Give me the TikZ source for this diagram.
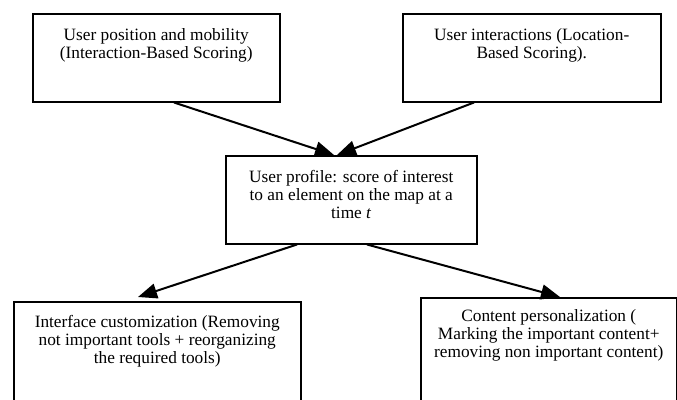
\documentclass[tikz,border=0pt]{standalone}
\usepackage{fontspec}
\setmainfont{Liberation Serif}
\usetikzlibrary{arrows.meta}
\begin{document}
\begin{tikzpicture}[x=1pt,y=-1pt,
  box/.style={draw,line width=1.5pt,inner sep=0pt,anchor=north west},
  txt/.style={anchor=north,inner sep=0pt,align=center,font=\fontsize{17.3}{18.3}\selectfont},
  arr/.style={line width=2pt,-{Triangle[length=19pt,width=15pt]}}]
\useasboundingbox (0,0) rectangle (677,399);
\clip (0,0) rectangle (677,399);
\fill[white] (0,0) rectangle (677,399);
\node[box,minimum width=247pt,minimum height=88pt] (b1) at (32,13) {};
\node[box,minimum width=258pt,minimum height=88pt] (b2) at (402,13) {};
\node[box,minimum width=251pt,minimum height=88pt] (c) at (225,155) {};
\node[box,minimum width=287pt,minimum height=120pt] (d1) at (13,301) {};
\node[box,minimum width=256pt,minimum height=120pt] (d2) at (420,297) {};
\node[txt] (t1) at ([yshift=-15pt]b1.north) {User position and mobility\\(Interaction-Based Scoring)};
\node[txt] (t2) at ([yshift=-15pt]b2.north) {User interactions (Location-\\Based Scoring).};
\node[txt] (t3) at ([yshift=-15pt]c.north) {User profile: score of interest\\to an element on the map at a\\time \textit{t}};
\node[txt] (t4) at ([yshift=-14pt]d1.north) {Interface customization (Removing\\not important tools + reorganizing\\the required tools)};
\node[txt] (t5) at ([yshift=-12pt]d2.north) {Content personalization (\\Marking the important content+\\removing non important content)};
\draw[arr] ([xshift=142pt]b1.south west) -- ([xshift=109pt]c.north west);
\draw[arr] ([xshift=72pt]b2.south west) -- ([xshift=112pt]c.north west);
\draw[arr] ([xshift=72pt]c.south west) -- ([xshift=125pt,yshift=4pt]d1.north west);
\draw[arr] ([xshift=142pt]c.south west) -- ([xshift=140pt]d2.north west);
\end{tikzpicture}
\end{document}
